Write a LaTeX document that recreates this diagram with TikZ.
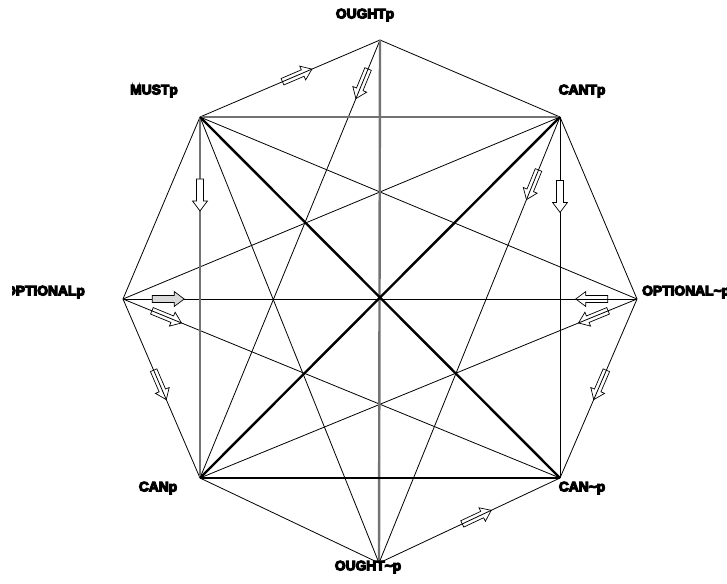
\documentclass[tikz,border=0pt]{standalone}
\usepackage{fontspec}
\newfontfamily\lblfont[BoldFeatures={FakeBold=8}]{Liberation Sans}
\usetikzlibrary{calc}
\begin{document}
\begin{tikzpicture}[x=1pt,y=-1pt,
  edgeline/.style={line width=0.8pt, black},
  diagline/.style={line width=0.8pt, black},
  heavyline/.style={line width=2.4pt, black},
  grayline/.style={line width=2.4pt, black!55},
  lbl/.style={font=\lblfont\bfseries\fontsize{13.8}{14}\selectfont, inner sep=0pt},
  arrowline/.style={line width=0.7pt, black, line join=miter},
  barrow/.pic={\draw[arrowline,fill=\arrowfill] (-16,-3.5) -- (6,-3.5) -- (6,-7.5) -- (16,0) -- (6,7.5) -- (6,3.5) -- (-16,3.5) -- cycle;}
]
\def\arrowfill{none}
\newcommand\barrowat[4]{%
  \def\arrowfill{#4}%
  \path let \p1=(#1), \p2=(#2), \n1={atan2(\y2-\y1,\x2-\x1)} in ($(#1)!#3!(#2)$) pic[rotate=\n1] {barrow};}
\useasboundingbox (0,0) rectangle (727,583);
% vertices
\coordinate (opn) at (637,299);
\coordinate (cant) at (560,117);
\coordinate (ought) at (380,40);
\coordinate (must) at (200,117);
\coordinate (opt) at (123,299);
\coordinate (can) at (200,478);
\coordinate (oughtn) at (379,563);
\coordinate (cann) at (560,478);
% octagon edges
\draw[edgeline] (opn) -- (cant) -- (ought) -- (must) -- (opt) -- (can) -- (oughtn) -- (cann) -- cycle;
% thin diagonals
\draw[diagline] (cant) -- (cann);
\draw[diagline] (opt) -- (opn);
\draw[diagline] (must) -- (opn);
\draw[diagline] (must) -- (oughtn);
\draw[diagline] (cant) -- (opt);
\draw[diagline] (cant) -- (oughtn);
\draw[diagline] (ought) -- (can);
\draw[diagline] (opt) -- (cann);
\draw[diagline] (opn) -- (can);
% gray lines
\draw[grayline] (must) -- (cant);
\draw[grayline] (must) -- (can);
\draw[grayline] (ought) -- (oughtn);
% heavy lines
\draw[heavyline] (must) -- (cann);
\draw[heavyline] (cant) -- (can);
\draw[heavyline] (can) -- (cann);
% block arrows
\barrowat{must}{ought}{0.54}{none}
\barrowat{ought}{can}{0.10}{none}
\barrowat{must}{can}{0.216}{white}
\barrowat{cant}{oughtn}{0.152}{none}
\barrowat{cant}{cann}{0.22}{white}
\barrowat{opt}{opn}{0.088}{black!15}
\barrowat{opt}{cann}{0.10}{none}
\barrowat{opt}{can}{0.48}{none}
\barrowat{opn}{opt}{0.088}{none}
\barrowat{opn}{can}{0.10}{none}
\barrowat{opn}{cann}{0.48}{none}
\barrowat{oughtn}{cann}{0.54}{none}
% labels
\node[lbl] (lought) at (365,15) {OUGHTp};
\node[lbl] (loughtn) at (368,567) {OUGHT\textasciitilde p};
\node[lbl] (lmust) at (154,91) {MUSTp};
\node[lbl] (lcant) at (582,91) {CANTp};
\begin{scope}
  \clip (12,270) rectangle (110,310);
  \node[lbl, anchor=east] (lopt) at (85,292) {OPTIONALp};
\end{scope}
\node[lbl, anchor=west] (lopn) at (642,292) {OPTIONAL\textasciitilde p};
\node[lbl] (lcan) at (158,488) {CANp};
\node[lbl] (lcann) at (582,488) {CAN\textasciitilde p};
\end{tikzpicture}
\end{document}
